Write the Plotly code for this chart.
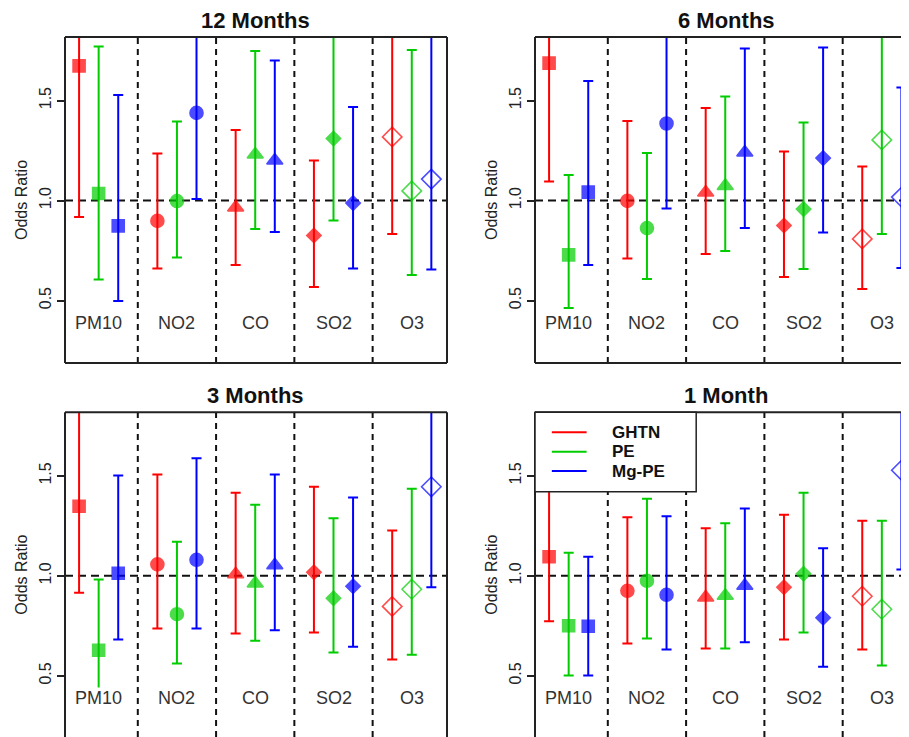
import plotly.graph_objects as go

pollutants = ["PM10", "NO2", "CO", "SO2", "O3"]
series_names = ["GHTN", "PE", "Mg-PE"]
series_colors = ["#FF0000", "#00CC00", "#0000FF"]
panel_titles = ["12 Months", "6 Months", "3 Months", "1 Month"]
ytick_vals = [0.5, 1.0, 1.5]
ytick_text = ["0.5", "1.0", "1.5"]

# 12 Months
m12_ghtn_or = [1.673, 0.898, 0.965, 0.825, 1.318]
m12_ghtn_lo = [0.917, 0.660, 0.678, 0.568, 0.832]
m12_ghtn_hi = [3.050, 1.235, 1.352, 1.200, 2.090]
m12_pe_or = [1.035, 0.997, 1.230, 1.310, 1.048]
m12_pe_lo = [0.605, 0.715, 0.857, 0.900, 0.628]
m12_pe_hi = [1.770, 1.395, 1.747, 1.910, 1.752]
m12_mg_or = [0.873, 1.438, 1.200, 0.987, 1.107]
m12_mg_lo = [0.498, 1.008, 0.843, 0.660, 0.655]
m12_mg_hi = [1.527, 2.050, 1.700, 1.468, 1.870]

# 6 Months
m6_ghtn_or = [1.687, 0.998, 1.040, 0.875, 0.808]
m6_ghtn_lo = [1.095, 0.710, 0.733, 0.618, 0.557]
m6_ghtn_hi = [2.600, 1.397, 1.463, 1.245, 1.170]
m6_pe_or = [0.728, 0.862, 1.073, 0.957, 1.303]
m6_pe_lo = [0.463, 0.607, 0.748, 0.657, 0.833]
m6_pe_hi = [1.128, 1.237, 1.520, 1.390, 2.040]
m6_mg_or = [1.042, 1.385, 1.240, 1.212, 1.017]
m6_mg_lo = [0.678, 0.960, 0.863, 0.840, 0.662]
m6_mg_hi = [1.597, 2.000, 1.760, 1.765, 1.565]

# 3 Months
m3_ghtn_or = [1.348, 1.057, 1.008, 1.018, 0.847]
m3_ghtn_lo = [0.915, 0.737, 0.712, 0.717, 0.582]
m3_ghtn_hi = [1.990, 1.507, 1.415, 1.445, 1.227]
m3_pe_or = [0.628, 0.808, 0.962, 0.888, 0.933]
m3_pe_lo = [0.400, 0.562, 0.675, 0.617, 0.605]
m3_pe_hi = [0.982, 1.170, 1.355, 1.288, 1.435]
m3_mg_or = [1.013, 1.080, 1.053, 0.948, 1.445]
m3_mg_lo = [0.682, 0.737, 0.728, 0.645, 0.943]
m3_mg_hi = [1.502, 1.588, 1.507, 1.392, 2.210]

# 1 Month
m1_ghtn_or = [1.095, 0.925, 0.892, 0.943, 0.898]
m1_ghtn_lo = [0.773, 0.662, 0.637, 0.682, 0.632]
m1_ghtn_hi = [1.550, 1.293, 1.238, 1.305, 1.275]
m1_pe_or = [0.750, 0.975, 0.900, 1.010, 0.833]
m1_pe_lo = [0.502, 0.687, 0.637, 0.717, 0.552]
m1_pe_hi = [1.115, 1.385, 1.263, 1.415, 1.275]
m1_mg_or = [0.748, 0.905, 0.950, 0.790, 1.528]
m1_mg_lo = [0.502, 0.632, 0.668, 0.545, 1.032]
m1_mg_hi = [1.095, 1.298, 1.337, 1.138, 2.260]

panels_data = [
    [(m12_ghtn_or, m12_ghtn_lo, m12_ghtn_hi), (m12_pe_or, m12_pe_lo, m12_pe_hi), (m12_mg_or, m12_mg_lo, m12_mg_hi)],
    [(m6_ghtn_or, m6_ghtn_lo, m6_ghtn_hi), (m6_pe_or, m6_pe_lo, m6_pe_hi), (m6_mg_or, m6_mg_lo, m6_mg_hi)],
    [(m3_ghtn_or, m3_ghtn_lo, m3_ghtn_hi), (m3_pe_or, m3_pe_lo, m3_pe_hi), (m3_mg_or, m3_mg_lo, m3_mg_hi)],
    [(m1_ghtn_or, m1_ghtn_lo, m1_ghtn_hi), (m1_pe_or, m1_pe_lo, m1_pe_hi), (m1_mg_or, m1_mg_lo, m1_mg_hi)],
]

symbols = ["square", "circle", "triangle-up", "diamond", "diamond-open"]
sizes = [12, 13, 14, 11, 15]
offsets = [-0.25, 0.0, 0.25]

OFF = 8  # page body margin
W, H = 909 - OFF, 737 - OFF
FONT = "Liberation Sans, Arial, sans-serif"

# panel geometry in screen pixels: (left, right, top, bottom)
px_boxes = [(65, 447, 37, 363), (535, 909, 37, 363), (65, 447, 412.3, 737), (535, 909, 412.3, 737)]
title_centers = [(255, 20.5), (726, 20.5), (255, 395), (726, 395)]
x_ranges = [[0.57, 5.45], [0.57, 5.347], [0.57, 5.45], [0.57, 5.347]]
y_ranges = [[0.1875, 1.8175], [0.1875, 1.8175], [0.194, 1.8175], [0.194, 1.8175]]


def fx(v):
    return (v - OFF) / W


def fy(v):
    return 1 - (v - OFF) / H


fig = go.Figure()
layout = dict(width=W, height=H, margin=dict(l=0, r=0, t=0, b=0),
              paper_bgcolor="white", plot_bgcolor="rgba(0,0,0,0)",
              showlegend=False, font=dict(family=FONT, color="#222"))
shapes = []
annotations = []

for p in range(4):
    l, r, t, b = px_boxes[p]
    xa = "xaxis" if p == 0 else f"xaxis{p+1}"
    ya = "yaxis" if p == 0 else f"yaxis{p+1}"
    xr = "x" if p == 0 else f"x{p+1}"
    yr = "y" if p == 0 else f"y{p+1}"
    layout[xa] = dict(domain=[max(0, fx(l)), min(1, fx(r))], range=x_ranges[p], visible=False,
                      anchor=yr, fixedrange=True)
    layout[ya] = dict(domain=[max(0, fy(b)), min(1, fy(t))], range=y_ranges[p], anchor=xr,
                      showgrid=False, zeroline=False, showline=False,
                      tickvals=ytick_vals, ticktext=ytick_text, tickangle=-90,
                      ticks="outside", ticklen=7, tickwidth=1.5, tickcolor="#222",
                      tickfont=dict(size=16, family=FONT, color="#222"))
    for s in range(3):
        orv, lo, hi = panels_data[p][s]
        xs = [i + 1 + offsets[s] for i in range(len(pollutants))]
        fig.add_trace(go.Scatter(
            x=xs, y=orv, mode="markers", name=series_names[s], xaxis=xr, yaxis=yr,
            marker=dict(symbol=symbols, size=sizes, color=series_colors[s],
                        line=dict(color=series_colors[s], width=1.6)),
            error_y=dict(type="data", symmetric=False,
                         array=[h - o for h, o in zip(hi, orv)],
                         arrayminus=[o - lw for o, lw in zip(orv, lo)],
                         color=series_colors[s], thickness=2, width=5),
        ))
    # dashed separators
    for d in [1.5, 2.5, 3.5, 4.5]:
        shapes.append(dict(type="line", xref=xr, yref=f"{yr} domain", x0=d, x1=d, y0=0, y1=1,
                           line=dict(color="#111", width=2, dash="6px,5px"), layer="below"))
    shapes.append(dict(type="line", xref=f"{xr} domain", yref=yr, x0=0, x1=1, y0=1, y1=1,
                       line=dict(color="#111", width=2, dash="8px,5px"), layer="below"))
    # box borders
    bc = dict(color="#222", width=2)
    shapes.append(dict(type="line", xref=f"{xr} domain", yref=f"{yr} domain", x0=0, x1=0, y0=0, y1=1, line=bc))
    shapes.append(dict(type="line", xref=f"{xr} domain", yref=f"{yr} domain", x0=0, x1=1, y0=1, y1=1, line=bc))
    if p in (0, 2):
        shapes.append(dict(type="line", xref=f"{xr} domain", yref=f"{yr} domain", x0=1, x1=1, y0=0, y1=1, line=bc))
    if p in (0, 1):
        shapes.append(dict(type="line", xref=f"{xr} domain", yref=f"{yr} domain", x0=0, x1=1, y0=0, y1=0, line=bc))
    # pollutant labels
    for i, name in enumerate(pollutants):
        annotations.append(dict(x=i + 1, y=0.39, xref=xr, yref=yr, text=name, showarrow=False,
                                xanchor="center", yanchor="middle",
                                font=dict(size=18, family=FONT, color="#333"),
                                bgcolor="white", borderpad=0))
    # y axis title
    annotations.append(dict(x=0, y=0.5, xref=f"{xr} domain", yref=f"{yr} domain", xshift=-43,
                            xanchor="center", yanchor="middle",
                            text="Odds Ratio", textangle=-90, showarrow=False,
                            font=dict(size=16, family=FONT, color="#222")))
    # panel title
    tx, ty = title_centers[p]
    annotations.append(dict(x=fx(tx), y=fy(ty), xref="paper", yref="paper",
                            xanchor="center", yanchor="middle",
                            text=f"<b>{panel_titles[p]}</b>", showarrow=False,
                            font=dict(size=22, family=FONT, color="#111")))

# legend in the 1 Month panel
shapes.append(dict(type="rect", xref="x4 domain", yref="y4 domain", x0=0, x1=0.431, y0=0.7555, y1=1,
                   fillcolor="white", line=dict(color="#222", width=1.5), layer="above"))
leg_rows = [0.9384, 0.8787, 0.8192]
for s in range(3):
    shapes.append(dict(type="line", xref="x4 domain", yref="y4 domain", x0=0.045, x1=0.138,
                       y0=leg_rows[s], y1=leg_rows[s],
                       line=dict(color=series_colors[s], width=2), layer="above"))
    annotations.append(dict(x=0.2, y=leg_rows[s], xref="x4 domain", yref="y4 domain",
                            text=f"<b>{series_names[s]}</b>", xanchor="left", yanchor="middle",
                            showarrow=False,
                            font=dict(size=17, family=FONT, color="#111")))

layout["shapes"] = shapes
layout["annotations"] = annotations
fig.update_layout(**layout)
fig.write_html("out.html")
